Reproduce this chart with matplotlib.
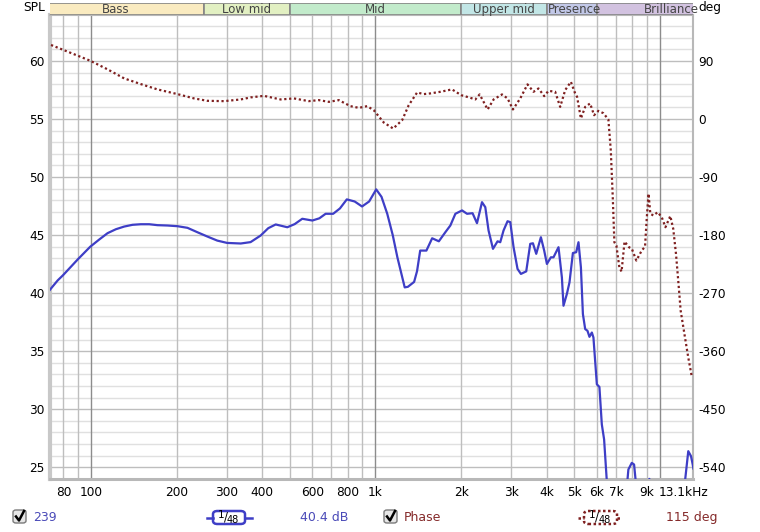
import numpy as np
import matplotlib
matplotlib.use("Agg")
import matplotlib.pyplot as plt
from matplotlib.patches import FancyBboxPatch, Rectangle
from matplotlib.lines import Line2D
from matplotlib.ticker import NullLocator

# SPL trace (Hz, dB)
spl_freq = [71.8, 76.4, 79.8, 89.8, 99.4, 106.9, 114.4, 122.4, 130.9, 140.0,
            149.8, 160.2, 171.3, 185.8, 201.6, 218.4, 236.7, 256.6, 278, 301,
            336.1, 364, 395, 420, 446, 490, 520, 553, 600, 635,
            668, 710, 750, 793, 845, 897, 950, 1006, 1050, 1100,
            1150, 1194, 1267, 1300, 1367, 1400, 1436, 1510, 1582, 1670,
            1760, 1833, 1909, 2015, 2098, 2194, 2274, 2368, 2432, 2497,
            2588, 2686, 2745, 2819, 2912, 2977, 3057, 3157, 3245, 3387,
            3499, 3576, 3673, 3814, 3917, 4004, 4135, 4223, 4398, 4520,
            4579, 4706, 4807, 4941, 5075, 5170, 5272, 5358, 5458, 5560,
            5650, 5761, 5835, 5998, 6124, 6244, 6361, 6502, 6700, 7100,
            7500, 7742, 7957, 8107, 8238, 8600, 9000, 9174, 9350, 10000,
            11000, 12000, 12240, 12570, 12850, 13030, 13100]
spl_db = [40.3, 41.1, 41.55, 42.9, 44.0, 44.62, 45.17, 45.51, 45.74, 45.89,
          45.94, 45.94, 45.86, 45.83, 45.77, 45.63, 45.25, 44.88, 44.53, 44.33,
          44.28, 44.4, 44.97, 45.6, 45.92, 45.68, 45.95, 46.41, 46.26, 46.45,
          46.84, 46.84, 47.3, 48.08, 47.9, 47.47, 47.9, 48.94, 48.3, 46.84,
          45.0, 43.09, 40.50, 40.55, 40.97, 41.9, 43.67, 43.67, 44.73, 44.47,
          45.25, 45.83, 46.84, 47.13, 46.84, 46.89, 46.03, 47.84, 47.41, 45.40,
          43.82, 44.47, 44.39, 45.40, 46.20, 46.12, 43.96, 42.09, 41.66, 41.88,
          44.25, 44.30, 43.39, 44.82, 43.67, 42.52, 43.09, 43.09, 43.96, 41.36,
          38.92, 39.93, 40.93, 43.46, 43.53, 44.39, 42.23, 38.20, 36.91, 36.76,
          36.24, 36.61, 36.18, 32.15, 31.92, 28.70, 27.40, 23.8, 20.0, 18.0,
          21.0, 24.81, 25.38, 25.24, 23.5, 20.0, 21.5, 24.0, 21.5, 18.0,
          18.0, 21.0, 23.8, 26.39, 25.96, 25.24, 24.9]

# Phase trace (Hz, deg)
phase_freq = [72.4, 99.4, 114.4, 130.8, 149.8, 171.3, 201.5, 230.5, 256.6, 293.5,
              336, 364, 405.6, 464, 517, 583, 632, 686, 743, 817,
              874, 935, 986, 1069, 1154, 1241, 1309, 1401, 1477, 1560,
              1691, 1858, 2000, 2154, 2243, 2323, 2399, 2478, 2601, 2784,
              2912, 3042, 3227, 3422, 3593, 3741, 3917, 4056, 4281, 4458,
              4642, 4861, 5032, 5111, 5272, 5458, 5680, 5866, 6074, 6325,
              6585, 6714, 6823, 6912, 7025, 7197, 7326, 7505, 7783, 7956,
              8256, 8625, 8859, 8982, 9113, 9247, 9474, 9815, 10140, 10450,
              10870, 11130, 11380, 11590, 11820, 12240, 12570, 12920]
phase_deg = [114.9, 90.5, 77.1, 63.1, 54.2, 46.0, 38.7, 32.0, 28.3, 27.8,
             30.4, 33.6, 36.0, 30.4, 32.0, 27.8, 29.4, 26.7, 29.4, 20.0,
             17.4, 20.0, 13.8, -5.3, -14.7, -1.7, 21.6, 41.3, 38.7, 39.8,
             42.3, 46.0, 37.1, 33.0, 30.4, 38.2, 26.7, 14.9, 30.4, 38.2,
             32.0, 14.9, 32.0, 53.8, 42.3, 47.5, 35.6, 43.8, 42.3, 18.9,
             44.9, 57.8, 39.8, 34.5, 0.9, 18.9, 24.2, 6.0, 12.7, 9.1,
             -0.7, -48.4, -121.5, -191.0, -196.1, -229.9, -236.6, -189.9, -198.8, -200.8,
             -219.4, -203.9, -197.7, -154.1, -115.7, -146.8, -149.5, -144.4, -152.1, -167.7,
             -150.3, -170.2, -209.0, -250.6, -297.2, -338.7, -369.8, -398.3]

x_ticks = [80, 100, 200, 300, 400, 600, 800, 1000, 2000, 3000, 4000, 5000, 6000, 7000, 9000]
x_labels = ["80", "100", "200", "300", "400", "600", "800", "1k", "2k", "3k", "4k", "5k", "6k", "7k", "9k"]
spl_ticks = [25, 30, 35, 40, 45, 50, 55, 60]
deg_ticks = [-540, -450, -360, -270, -180, -90, 0, 90]

band_names = ["Bass", "Low mid", "Mid", "Upper mid", "Presence", "Brilliance"]
band_lo = [60, 250, 500, 2000, 4000, 6000]
band_hi = [250, 500, 2000, 4000, 6000, 20000]
band_colors = ["#FAEBC0", "#E2F0C2", "#C2EBCB", "#C2E6E6", "#C2C8E8", "#D2C2E0"]

W, H = 760, 532
fig = plt.figure(figsize=(7.6, 5.32), dpi=100)


def fx(x):
    return x / W


def fy(y):
    return 1 - y / H


L, R, T, B = 50, 693, 14.6, 478.9
ax = fig.add_axes([fx(L), fy(B), fx(R - L), (B - T) / H])
ax.set_xscale("log")
ax.set_xlim(71.8, 13060)
ax.set_ylim(24, 64)
ax2 = ax.twinx()
ax2.set_ylim(-558, 162)

# grid
for d in range(25, 64):
    ax.axhline(d, color="#BEBEBE" if d % 5 == 0 else "#E0E0E0", lw=1, zorder=0)
for dec in [10, 100, 1000, 10000]:
    for m in range(1, 10):
        f = m * dec
        if 71.8 < f < 13060:
            ax.axvline(f, color="#8C8C8C" if m == 1 else "#BEBEBE", lw=1, zorder=0)

ax.plot(spl_freq, spl_db, color="#3E3EC6", lw=1.6, zorder=3, solid_joinstyle="round")
ax2.plot(phase_freq, phase_deg, color="#7F2020", lw=1.6,
         linestyle=(0, (1, 1.2)), dash_capstyle="butt", zorder=3)

ax.xaxis.set_minor_locator(NullLocator())
ax.set_xticks(x_ticks)
ax.set_xticklabels(x_labels)
ax.set_yticks(spl_ticks)
ax.set_yticklabels([str(v) for v in spl_ticks])
ax2.set_yticks(deg_ticks)
ax2.set_yticklabels([str(v) for v in deg_ticks])
ax.tick_params(axis="x", length=0, labelsize=8.7, pad=5)
ax.tick_params(axis="y", length=0, labelsize=8.7, pad=4)
ax2.tick_params(axis="y", length=0, labelsize=8.7, pad=4)

for s in ax2.spines.values():
    s.set_visible(False)
for name, s in ax.spines.items():
    s.set_color("#B8B8B8")
    s.set_linewidth(1.5)
ax.spines["left"].set_linewidth(3)
ax.spines["left"].set_color("#C8C8C8")
ax.spines["bottom"].set_linewidth(2.2)

fig.text(fx(659), fy(492), "13.1kHz", fontsize=8.7, ha="left", va="center")

# frequency band strip
bax = fig.add_axes([fx(L), fy(14.5), fx(R - L), 12 / H])
bax.set_xscale("log")
bax.set_xlim(71.8, 13060)
bax.set_ylim(0, 1)
bax.axis("off")
for name, lo, hi, c in zip(band_names, band_lo, band_hi, band_colors):
    rect = Rectangle((lo, 0), hi - lo, 1, facecolor=c, edgecolor="#858585", lw=1.2)
    bax.add_patch(rect)
    if name == "Presence":
        t = bax.text(lo * 1.012, 0.45, name, ha="left", va="center", fontsize=8.5, color="#444444")
    else:
        t = bax.text(np.sqrt(lo * hi), 0.45, name, ha="center", va="center", fontsize=8.5, color="#444444")
    t.set_clip_path(rect)

fig.text(fx(34), fy(7.5), "SPL", ha="center", va="center", fontsize=8.8)
fig.text(fx(698), fy(7.5), "deg", ha="left", va="center", fontsize=8.8)

# legend row
blue_txt = "#4A4AB8"
red_txt = "#852A2A"


def checkbox(x0):
    fig.patches.append(FancyBboxPatch((fx(x0), fy(523)), fx(13), 13 / H,
                                      boxstyle="round,pad=0,rounding_size=0.004",
                                      transform=fig.transFigure, facecolor="#E6E6E6",
                                      edgecolor="#7A7A7A", lw=1))
    fig.lines.append(Line2D([fx(x0 + 3), fx(x0 + 6), fx(x0 + 11)],
                            [fy(516.5), fy(520.5), fy(511)],
                            transform=fig.transFigure, color="black", lw=1.8))


def trace_symbol(x0, x1, bx0, bx1, color, ls):
    fig.lines.append(Line2D([fx(x0), fx(bx0)], [fy(517.5)] * 2, transform=fig.transFigure,
                            color=color, lw=1.8, linestyle=ls))
    fig.lines.append(Line2D([fx(bx1), fx(x1)], [fy(517.5)] * 2, transform=fig.transFigure,
                            color=color, lw=1.8, linestyle=ls))
    fig.patches.append(FancyBboxPatch((fx(bx0), fy(524)), fx(bx1 - bx0), 13 / H,
                                      boxstyle="round,pad=0,rounding_size=0.006",
                                      transform=fig.transFigure, facecolor="white",
                                      edgecolor=color, lw=1.8, linestyle=ls))
    cx = (bx0 + bx1) / 2
    fig.text(fx(cx - 8), fy(514.5), "1", fontsize=7.5, ha="center", va="center")
    fig.text(fx(cx - 3.5), fy(517.5), "/", fontsize=8.5, ha="center", va="center")
    fig.text(fx(cx + 4), fy(520), "48", fontsize=7, ha="center", va="center")


checkbox(13)
fig.text(fx(33), fy(517.5), "239", color=blue_txt, fontsize=9, va="center")
trace_symbol(207, 252, 213, 245, "#3E3EC6", "-")
fig.text(fx(300), fy(517.5), "40.4 dB", color=blue_txt, fontsize=9, va="center")

checkbox(384)
fig.text(fx(404), fy(517.5), "Phase", color=red_txt, fontsize=9, va="center")
trace_symbol(578, 621, 584, 617, "#7F2020", (0, (1, 1)))
fig.text(fx(666), fy(517.5), "115 deg", color=red_txt, fontsize=9, va="center")

fig.savefig("out.png", dpi=100)
